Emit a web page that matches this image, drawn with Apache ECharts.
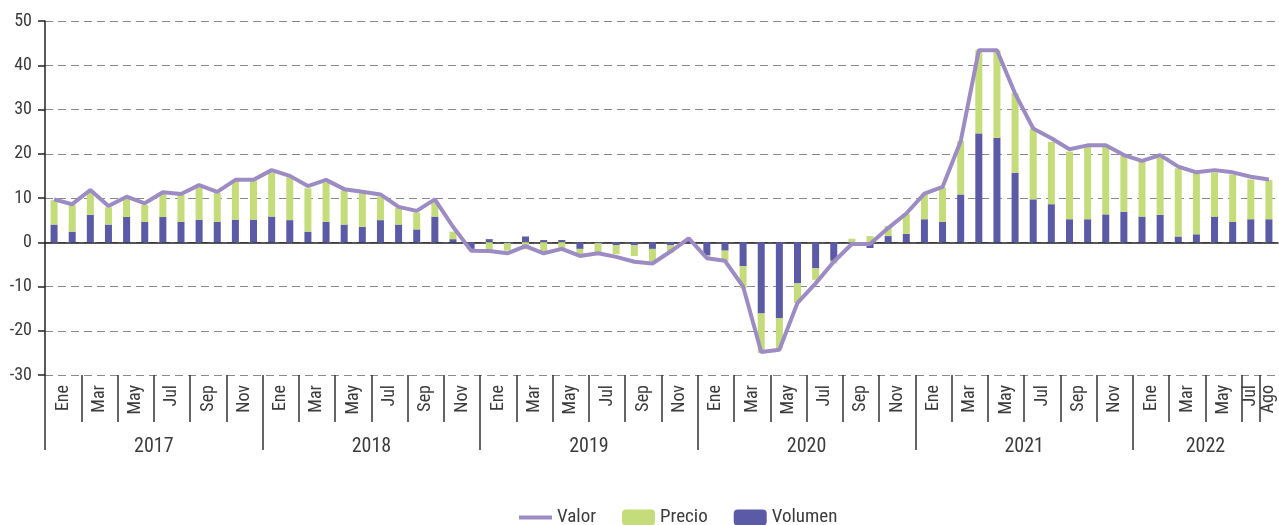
<!DOCTYPE html>
<html>
<head>
<meta charset="utf-8">
<script src="https://cdn.jsdelivr.net/npm/echarts@6/dist/echarts.min.js"></script>
<style>
  html, body { margin: 0; padding: 0; background: #fff; }
  #chart { width: 1279px; height: 525px; }
</style>
</head>
<body>
<div id="chart"></div>
<script>
// datos mensuales, ene 2017 - ago 2022
const meses = ['Ene', 'Feb', 'Mar', 'Abr', 'May', 'Jun', 'Jul', 'Ago', 'Sep', 'Oct', 'Nov', 'Dic']
const anios = ['2017', '2018', '2019', '2020', '2021', '2022']

const volumen = [
  4.0, 2.4, 6.2, 4.0, 5.7, 4.6, 5.7, 4.6, 5.1, 4.6, 5.1, 5.1,
  5.8, 5.0, 2.4, 4.6, 4.0, 3.5, 5.0, 4.0, 2.9, 5.8, 0.7, -1.5,
  0.7, -0.2, 1.3, 0.5, 0.5, -1.5, -0.2, -0.7, -0.7, -1.5, -0.7, 0.3,
  -3.0, -1.9, -5.4, -16.1, -17.2, -9.3, -5.9, -4.2, -0.2, -1.3, 1.4, 1.9,
  5.2, 4.6, 10.8, 24.6, 23.6, 15.7, 9.7, 8.6, 5.2, 5.2, 6.3, 6.9,
  5.8, 6.2, 1.3, 1.8, 5.8, 4.6, 5.2, 5.2
]
const precio = [
  5.5, 6.0, 5.2, 3.9, 4.2, 3.8, 5.2, 6.1, 7.3, 6.5, 8.9, 8.9,
  9.9, 9.7, 9.8, 8.9, 7.7, 7.6, 5.3, 3.8, 3.8, 3.4, 1.7, -0.2,
  -1.7, -1.7, -1.6, -2.1, -2.0, -1.7, -2.3, -2.0, -2.4, -2.8, -1.6, 0.4,
  -0.3, -2.4, -5.0, -8.9, -6.8, -4.4, -2.6, -0.6, 0.8, 1.4, 2.3, 4.5,
  5.5, 7.8, 12.1, 18.8, 19.8, 18.0, 16.0, 14.1, 15.3, 16.4, 15.3, 12.6,
  12.6, 13.0, 15.4, 13.8, 10.0, 10.7, 9.0, 8.9
]
const valor = [
  9.7, 8.6, 11.8, 8.2, 10.3, 8.8, 11.3, 10.9, 12.9, 11.4, 14.1, 14.1,
  16.3, 15.0, 12.7, 14.1, 12.0, 11.4, 10.8, 8.0, 7.1, 9.7, 3.5, -1.9,
  -2.0, -2.5, -0.9, -2.5, -1.5, -3.1, -2.5, -3.3, -4.4, -4.8, -2.1, 0.9,
  -3.6, -4.2, -10.0, -24.8, -24.3, -13.7, -9.3, -4.4, -0.4, -0.4, 3.2, 6.5,
  11.0, 12.5, 22.8, 43.4, 43.4, 33.6, 25.7, 23.5, 21.0, 21.9, 21.9, 19.7,
  18.4, 19.7, 17.1, 15.8, 16.3, 15.8, 14.8, 14.2
]

const n = valor.length
const categorias = []
for (let i = 0; i < n; i++) categorias.push(meses[i % 12] + ' ' + anios[Math.floor(i / 12)])

// etiquetas de meses: una cada dos meses, centrada en el par (el ultimo par va separado)
const etiquetaMes = {}
const ticksMes = []
for (let i = 0; i < n - 2; i += 2) {
  ticksMes.push(i)
  etiquetaMes[i + 1] = meses[i % 12]
}
ticksMes.push(n - 2, n - 1)
etiquetaMes[n - 1.5] = meses[(n - 2) % 12]
etiquetaMes[n - 0.5] = meses[(n - 1) % 12]

// años: separador al inicio, etiqueta al centro
const etiquetaAnio = {}
const ticksAnio = []
anios.forEach((a, k) => {
  const ini = k * 12
  const fin = Math.min(ini + 12, n)
  ticksAnio.push(ini)
  etiquetaAnio[(ini + fin) / 2] = a
})

const fuente = "'Liberation Sans Narrow', 'Roboto Condensed', 'DejaVu Sans Condensed', sans-serif"
const gris = '#3c3c3c'
const colorValor = '#9d8bc4'

const chart = echarts.init(document.getElementById('chart'))
chart.setOption({
  animation: false,
  textStyle: { fontFamily: fuente, color: gris },
  grid: { left: 45, right: 1, top: 21, bottom: 150, containLabel: false },
  legend: {
    left: 512,
    top: 503,
    itemWidth: 33,
    itemHeight: 16,
    itemGap: 26,
    textStyle: { fontFamily: fuente, fontSize: 19, color: gris },
    data: [
      { name: 'Valor', itemStyle: { opacity: 0 }, lineStyle: { width: 4, color: colorValor } },
      'Precio',
      'Volumen'
    ]
  },
  xAxis: [
    {
      type: 'category',
      data: categorias,
      axisLine: { onZero: true, lineStyle: { color: '#222', width: 1.5 } },
      axisTick: { interval: 1, length: 7, lineStyle: { color: '#222', width: 1.5 } },
      axisLabel: { show: false }
    },
    {
      type: 'value',
      min: 0,
      max: n,
      position: 'bottom',
      axisLine: { show: false, onZero: false },
      splitLine: { show: false },
      axisTick: { show: true, customValues: ticksMes, length: 47, lineStyle: { color: '#333', width: 1.5 } },
      axisLabel: {
        customValues: Object.keys(etiquetaMes).map(Number),
        formatter: v => etiquetaMes[v] || '',
        rotate: 90,
        margin: 10,
        fontSize: 18,
        color: gris,
        fontFamily: fuente
      }
    },
    {
      type: 'value',
      min: 0,
      max: n,
      position: 'bottom',
      axisLine: { show: false, onZero: false },
      splitLine: { show: false },
      axisTick: { show: true, customValues: ticksAnio, length: 75, lineStyle: { color: '#333', width: 1.5 } },
      axisLabel: {
        customValues: Object.keys(etiquetaAnio).map(Number),
        formatter: v => etiquetaAnio[v] || '',
        margin: 62,
        fontSize: 20,
        color: gris,
        fontFamily: fuente
      }
    }
  ],
  yAxis: {
    type: 'value',
    min: -30,
    max: 50,
    interval: 10,
    axisLine: { show: true, lineStyle: { color: '#222', width: 1.5 } },
    axisTick: { show: true, length: 7, lineStyle: { color: '#222', width: 1.5 } },
    axisLabel: { fontSize: 18, margin: 13, color: gris, fontFamily: fuente },
    splitLine: { show: true, lineStyle: { color: '#8a8a8a', type: [8, 5], width: 1.2 } }
  },
  series: [
    {
      name: 'Volumen',
      type: 'bar',
      stack: 'total',
      barWidth: 7,
      itemStyle: { color: '#5b5aa6' },
      data: volumen
    },
    {
      name: 'Precio',
      type: 'bar',
      stack: 'total',
      barWidth: 7,
      itemStyle: { color: '#c5dc7b' },
      data: precio
    },
    {
      name: 'Valor',
      type: 'line',
      symbol: 'none',
      z: 5,
      lineStyle: { color: colorValor, width: 4 },
      itemStyle: { color: colorValor },
      data: valor
    }
  ]
})
</script>
</body>
</html>
